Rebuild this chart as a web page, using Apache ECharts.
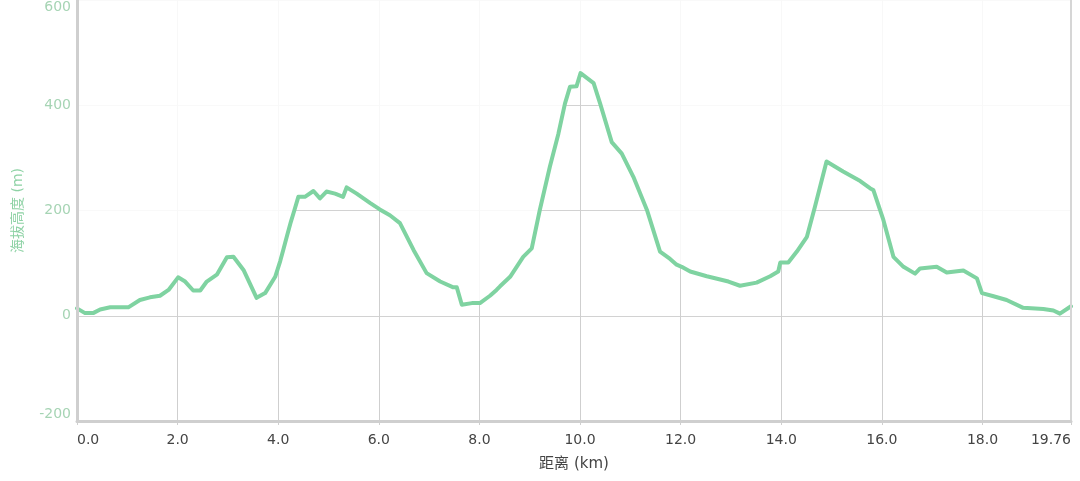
<!DOCTYPE html>
<html>
<head>
<meta charset="utf-8">
<title>海拔高度</title>
<script src="https://cdn.jsdelivr.net/npm/echarts@6/dist/echarts.min.js"></script>
<style>
  html, body { margin: 0; padding: 0; background: #ffffff; }
  #chart { width: 1080px; height: 481px; }
</style>
</head>
<body>
<div id="chart"></div>
<script>
// Elevation profile along the route
const distanceKm = [
  0, 0.16, 0.32, 0.46, 0.66, 1.02, 1.25, 1.45, 1.65, 1.82,
  2.01, 2.15, 2.31, 2.45, 2.58, 2.78, 2.98, 3.11, 3.31, 3.57,
  3.74, 3.94, 4.04, 4.10, 4.17, 4.25, 4.32, 4.40, 4.53, 4.70,
  4.83, 4.96, 5.13, 5.29, 5.36, 5.56, 5.83, 6.02, 6.22, 6.42,
  6.69, 6.95, 7.22, 7.48, 7.55, 7.65, 7.85, 8.01, 8.21, 8.34,
  8.41, 8.61, 8.87, 9.04, 9.20, 9.40, 9.57, 9.70, 9.80, 9.93,
  10.01, 10.27, 10.40, 10.63, 10.83, 11.06, 11.33, 11.59, 11.79, 11.92,
  12.02, 12.19, 12.52, 12.95, 13.18, 13.51, 13.78, 13.94, 13.98, 14.14,
  14.31, 14.51, 14.67, 14.90, 15.23, 15.57, 15.77, 15.83, 16.03, 16.23,
  16.43, 16.66, 16.76, 17.09, 17.29, 17.62, 17.89, 17.99, 18.22, 18.48,
  18.81, 19.21, 19.41, 19.54, 19.76
];
const elevationM = [
  14, 5, 5, 12, 16, 16, 30, 35, 38, 49,
  73, 65, 48, 48, 65, 78, 111, 112, 87, 34,
  43, 74, 104, 125, 150, 178, 200, 226, 226, 237,
  223, 236, 232, 226, 244, 232, 214, 202, 191, 176,
  125, 81, 65, 54, 54, 21, 24, 24, 38, 49,
  56, 74, 112, 128, 201, 283, 346, 403, 435, 436,
  461, 442, 403, 330, 308, 264, 201, 122, 108, 97,
  93, 84, 75, 65, 57, 63, 75, 84, 101, 101,
  122, 150, 207, 293, 274, 256, 242, 239, 182, 112,
  93, 80, 90, 93, 82, 86, 71, 43, 37, 30,
  15, 13, 10, 4, 18
];
const distanceMax = 19.76;
const elevationTicks = { min: -200, max: 600, step: 200 };

const FONT = "'DejaVu Sans', 'Noto Sans CJK SC', sans-serif";
const LINE_GREEN = '#7fd3a1';
const AXIS_GREY = '#cfcfcf';

const profile = distanceKm.map((d, i) => [d, elevationM[i]]);

const chart = echarts.init(document.getElementById('chart'), null, { renderer: 'canvas' });

chart.setOption({
  backgroundColor: '#ffffff',
  animation: false,
  textStyle: { fontFamily: FONT },
  grid: { left: 77, right: 9, top: 0, bottom: 60, containLabel: false },
  xAxis: [
    {
      type: 'value',
      min: 0,
      max: distanceMax,
      interval: 2,
      position: 'bottom',
      axisLine: { show: false, onZero: false },
      axisTick: { show: true, length: 4, lineStyle: { color: AXIS_GREY } },
      axisLabel: {
        color: '#444444',
        fontSize: 14,
        fontFamily: FONT,
        margin: 12,
        showMinLabel: true,
        showMaxLabel: true,
        alignMinLabel: 'left',
        alignMaxLabel: 'right',
        formatter: v => Number.isInteger(v) ? v.toFixed(1) : String(v)
      },
      splitLine: { show: true, lineStyle: { color: AXIS_GREY, width: 1 } },
      name: '距离 (km)',
      nameLocation: 'middle',
      nameGap: 36,
      nameTextStyle: { color: '#444444', fontSize: 15, fontFamily: FONT }
    },
    {
      // bottom axis bar drawn above the series
      type: 'value',
      min: 0,
      max: distanceMax,
      position: 'bottom',
      z: 5,
      axisLine: { show: true, onZero: false, lineStyle: { color: AXIS_GREY, width: 3 } },
      axisTick: { show: false },
      axisLabel: { show: false },
      splitLine: { show: false }
    }
  ],
  yAxis: [
    {
      type: 'value',
      min: elevationTicks.min,
      max: elevationTicks.max,
      interval: elevationTicks.step,
      position: 'left',
      axisLine: { show: false, onZero: false },
      axisTick: { show: false },
      axisLabel: {
        color: '#a6d4b4',
        fontSize: 14,
        fontFamily: FONT,
        margin: 6,
        verticalAlignMinLabel: 'bottom',
        verticalAlignMaxLabel: 'top'
      },
      splitLine: { show: true, lineStyle: { color: '#d2d2d2', width: 1 } },
      name: '海拔高度 (m)',
      nameLocation: 'middle',
      nameGap: 52,
      nameTextStyle: { color: '#8ed2a5', fontSize: 14, fontFamily: FONT }
    },
    {
      // left axis bar
      type: 'value',
      min: elevationTicks.min,
      max: elevationTicks.max,
      position: 'left',
      z: 5,
      axisLine: { show: true, onZero: false, lineStyle: { color: AXIS_GREY, width: 3 } },
      axisTick: { show: false },
      axisLabel: { show: false },
      splitLine: { show: false }
    },
    {
      // right border line
      type: 'value',
      min: elevationTicks.min,
      max: elevationTicks.max,
      position: 'right',
      z: 5,
      axisLine: { show: true, onZero: false, lineStyle: { color: '#d6d6d6', width: 2 } },
      axisTick: { show: false },
      axisLabel: { show: false },
      splitLine: { show: false }
    }
  ],
  series: [
    {
      type: 'line',
      xAxisIndex: 0,
      yAxisIndex: 0,
      data: profile,
      showSymbol: false,
      smooth: false,
      lineStyle: { color: LINE_GREEN, width: 4, join: 'round', cap: 'round' },
      // veil the grid above the profile so lines read strongest beneath it
      areaStyle: { origin: 'end', color: '#ffffff', opacity: 0.86 }
    }
  ]
});
</script>
</body>
</html>
